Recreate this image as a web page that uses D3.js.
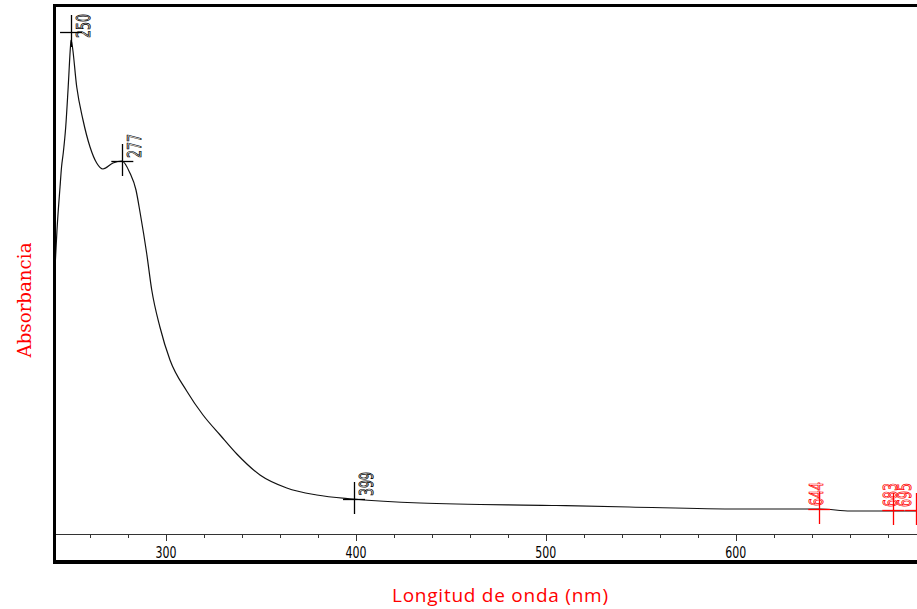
<!DOCTYPE html>
<html>
<head>
<meta charset="utf-8">
<script src="https://cdn.jsdelivr.net/npm/d3@7"></script>
<style>
  body { margin: 0; background: #fff; }
  svg { display: block; }
  .mk { text-rendering: geometricPrecision; }
</style>
</head>
<body>
<svg id="chart" width="917" height="609"></svg>
<script>
// spectrum (absorbance in arbitrary units)
var wavelength = [241.5, 242.6, 244.2, 245.0, 245.9, 247.2, 248.5, 249.8, 250.0, 250.5, 253.0, 256.3, 260.0, 263.5,
  266.8, 272.1, 276.8, 281.0, 284.2, 286.4, 289.8, 292.5, 296.8, 302.1, 310.9, 319.5, 328.5, 337.3, 349.5, 363.6,
  379.4, 398.5, 433.8, 505.5, 543.9, 601.9, 644.6, 660.4, 696.0];
var absorbance = [0.528, 0.608, 0.694, 0.734, 0.762, 0.814, 0.894, 0.980, 0.988, 0.980, 0.894, 0.828, 0.774, 0.742,
  0.730, 0.742, 0.746, 0.722, 0.688, 0.642, 0.562, 0.488, 0.414, 0.348, 0.286, 0.238, 0.198, 0.160, 0.118, 0.092,
  0.078, 0.070, 0.062, 0.057, 0.054, 0.050, 0.050, 0.046, 0.046];

var peakNm = [250, 277, 399];
var peakAbs = [1.004, 0.746, 0.070];
var redNm = [644, 683, 695];
var redAbs = [0.050, 0.048, 0.048];

var majorTicks = [300, 400, 500, 600];
var minorTicks = d3.range(260, 700, 20);

var svg = d3.select('#chart');
var x = d3.scaleLinear().domain([240.5, 696]).range([53, 918]);
var y = d3.scaleLinear().domain([0, 1]).range([534, 34]);
var axisY = 534;

// axis line + ticks
svg.append('line').attr('x1', 54).attr('x2', 917).attr('y1', axisY + 0.5).attr('y2', axisY + 0.5)
  .attr('stroke', '#333').attr('stroke-width', 1);
svg.selectAll('.minor').data(minorTicks).enter().append('line')
  .attr('x1', d => Math.round(x(d)) + 0.5).attr('x2', d => Math.round(x(d)) + 0.5)
  .attr('y1', axisY).attr('y2', axisY + 4).attr('stroke', '#333');
svg.selectAll('.major').data(majorTicks).enter().append('line')
  .attr('x1', d => Math.round(x(d)) + 0.5).attr('x2', d => Math.round(x(d)) + 0.5)
  .attr('y1', axisY).attr('y2', axisY + 7).attr('stroke', '#333');
svg.selectAll('.tlabel').data(majorTicks).enter().append('text')
  .attr('x', d => x(d)).attr('y', 558)
  .attr('text-anchor', 'middle')
  .attr('font-family', 'DejaVu Sans Condensed, DejaVu Sans, sans-serif')
  .attr('font-size', 15)
  .attr('textLength', 21).attr('lengthAdjust', 'spacingAndGlyphs')
  .attr('fill', '#000')
  .text(d => d);

// spectrum
var line = d3.line().x((d, i) => x(wavelength[i])).y(d => y(d)).curve(d3.curveMonotoneX);
svg.append('path').datum(absorbance).attr('d', line)
  .attr('fill', 'none').attr('stroke', '#111').attr('stroke-width', 1.2);

// peak markers
function markers(nm, ab, color, lx, cls) {
  var g = svg.selectAll('.' + cls).data(nm).enter().append('g');
  g.append('line')
    .attr('x1', d => x(d) - 11).attr('x2', (d) => x(d) + 11)
    .attr('y1', (d, i) => Math.round(y(ab[i])) + 0.5).attr('y2', (d, i) => Math.round(y(ab[i])) + 0.5)
    .attr('stroke', color).attr('stroke-width', 1.3);
  g.append('line')
    .attr('x1', d => Math.round(x(d)) + 0.5).attr('x2', d => Math.round(x(d)) + 0.5)
    .attr('y1', (d, i) => y(ab[i]) - 17).attr('y2', (d, i) => y(ab[i]) + 15)
    .attr('stroke', color).attr('stroke-width', 1.3);
  g.append('text')
    .attr('class', 'mk')
    .attr('transform', (d, i) => 'translate(' + Math.min(x(d) + lx, 911) + ',' + Math.max(y(ab[i]) - 3, 38) + ') rotate(-90)')
    .attr('font-family', 'DejaVu Sans Condensed, DejaVu Sans, sans-serif')
    .attr('font-size', 19)
    .attr('textLength', 24).attr('lengthAdjust', 'spacingAndGlyphs')
    .attr('fill', 'none').attr('stroke', color).attr('stroke-width', 0.8)
    .text(d => d);
}
markers(peakNm, peakAbs, '#000', 19, 'pk');
markers(redNm, redAbs, '#ff0000', 4, 'rd');

// frame
svg.append('line').attr('x1', 54.5).attr('x2', 54.5).attr('y1', 4).attr('y2', 564)
  .attr('stroke', '#000').attr('stroke-width', 3);
svg.append('line').attr('x1', 53).attr('x2', 917).attr('y1', 5.5).attr('y2', 5.5)
  .attr('stroke', '#000').attr('stroke-width', 3);
svg.append('line').attr('x1', 53).attr('x2', 917).attr('y1', 562).attr('y2', 562)
  .attr('stroke', '#000').attr('stroke-width', 4);

// titles
svg.append('text')
  .attr('transform', 'translate(31,300) rotate(-90)')
  .attr('text-anchor', 'middle')
  .attr('font-family', 'DejaVu Serif, Liberation Serif, serif')
  .attr('font-size', 19)
  .attr('textLength', 115).attr('lengthAdjust', 'spacingAndGlyphs')
  .attr('fill', '#ff0000')
  .text('Absorbancia');

svg.append('text')
  .attr('x', 500).attr('y', 602)
  .attr('text-anchor', 'middle')
  .attr('font-family', 'Open Sans, sans-serif')
  .attr('font-size', 19)
  .attr('textLength', 216).attr('lengthAdjust', 'spacing')
  .attr('fill', '#ff0000')
  .text('Longitud de onda (nm)');
</script>
</body>
</html>
